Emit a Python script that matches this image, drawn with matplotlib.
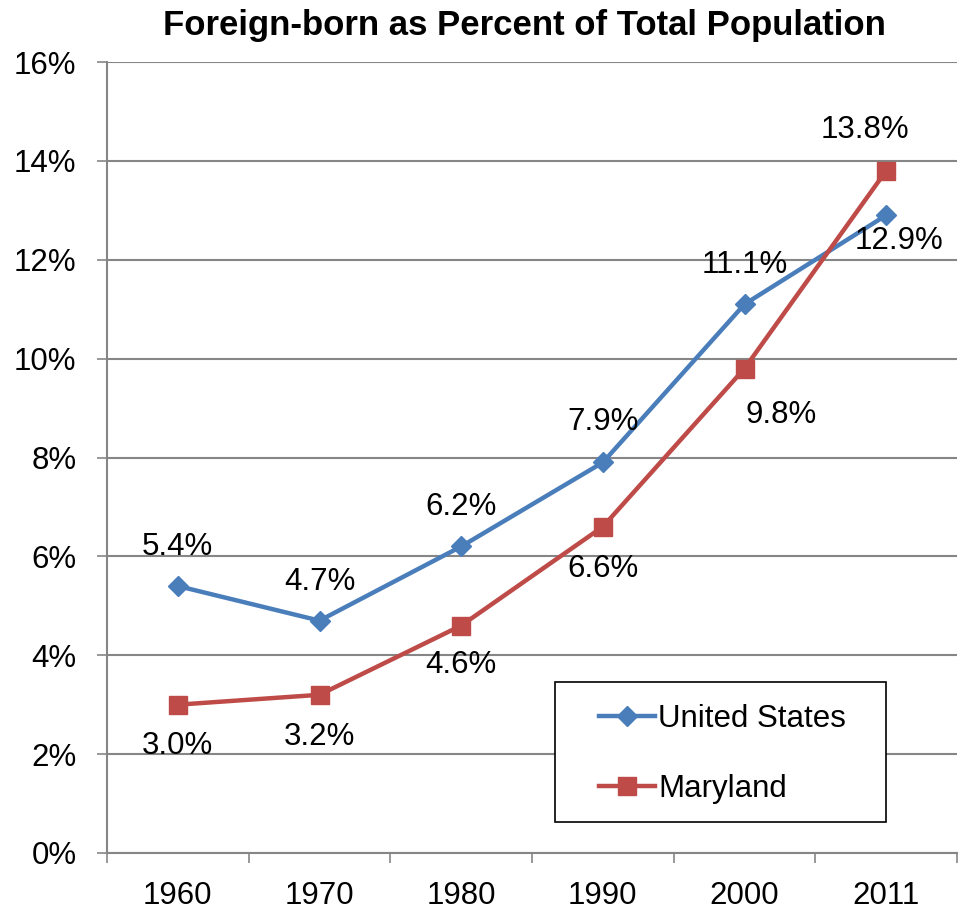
import matplotlib
matplotlib.use("Agg")
import matplotlib.pyplot as plt
from matplotlib.lines import Line2D
from matplotlib.patches import Rectangle

plt.rcParams['font.family'] = ['Liberation Sans', 'DejaVu Sans']

years = ["1960", "1970", "1980", "1990", "2000", "2011"]
us_vals = [5.4, 4.7, 6.2, 7.9, 11.1, 12.9]
md_vals = [3.0, 3.2, 4.6, 6.6, 9.8, 13.8]
y_ticks = [0, 2, 4, 6, 8, 10, 12, 14, 16]

# label offsets in pixels (dx, dy) relative to each point
us_off = [(0, 39), (0, 39), (0, 39), (0, 40), (0, 39), (13, -26)]
md_off = [(0, -41), (0, -42), (0, -39), (0, -42), (37, -46), (-21, 41)]

blue = "#4A7EBB"
red = "#BE4B48"
grid_c = "#868686"
fs = 22.5

W, H = 961, 909
fig = plt.figure(figsize=(W / 100, H / 100), dpi=100)
ax = fig.add_axes([107 / W, (H - 853) / H, (957 - 107) / W, (853 - 62) / H])

x = list(range(len(years)))
ax.plot(x, us_vals, color=blue, lw=3.2, marker="D", ms=10.5, mfc=blue, mec=blue, zorder=3)
ax.plot(x, md_vals, color=red, lw=3.2, marker="s", ms=13.5, mfc=red, mec=red, zorder=3)

px = 0.72
for xi, v, (dx, dy) in zip(x, us_vals, us_off):
    ax.annotate(f"{v:.1f}%", (xi, v), xytext=(dx * px, dy * px), textcoords="offset points",
                ha="center", va="center", fontsize=fs, color="black", zorder=4)
for xi, v, (dx, dy) in zip(x, md_vals, md_off):
    ax.annotate(f"{v:.1f}%", (xi, v), xytext=(dx * px, dy * px), textcoords="offset points",
                ha="center", va="center", fontsize=fs, color="black", zorder=4)

ax.set_xlim(-0.5, len(years) - 0.5)
ax.set_ylim(0, 16)
ax.set_yticks(y_ticks)
ax.set_yticklabels([f"{t}%" for t in y_ticks])
ax.set_xticks(x)
ax.set_xticklabels(years)
ax.set_xticks([i - 0.5 for i in range(len(years) + 1)], minor=True)

ax.yaxis.grid(True, color=grid_c, lw=1.5, zorder=0)
ax.set_axisbelow(True)
for s in ["top", "right"]:
    ax.spines[s].set_visible(False)
for s in ["left", "bottom"]:
    ax.spines[s].set_color(grid_c)
    ax.spines[s].set_linewidth(1.5)

ax.tick_params(axis="y", which="major", length=7, width=1.2, color=grid_c, pad=15, labelsize=fs)
ax.tick_params(axis="x", which="major", length=0, pad=20, labelsize=fs)
ax.tick_params(axis="x", which="minor", length=7, width=1.2, color=grid_c, direction="out")

fig.text(524 / W, 1 - 35 / H, "Foreign-born as Percent of Total Population",
         ha="center", va="baseline", fontsize=25, fontweight="bold")

# legend frame
fig.patches.append(Rectangle((555 / W, 1 - 822 / H), (886 - 555) / W, (822 - 682) / H,
                             transform=fig.transFigure, facecolor="white",
                             edgecolor="black", lw=1.2, zorder=5))

handles = [
    Line2D([], [], color=blue, lw=3.2, marker="D", ms=10.5),
    Line2D([], [], color=red, lw=3.2, marker="s", ms=13.5),
]
leg = fig.legend(handles, ["United States", "Maryland"],
                 loc="center left", bbox_to_anchor=(599 / W, 1 - 754 / H),
                 fontsize=fs, frameon=False,
                 handlelength=1.8, handletextpad=0.1, labelspacing=1.27, borderpad=0,
                 borderaxespad=0)
leg.set_zorder(6)

fig.savefig("out.png", dpi=100)
